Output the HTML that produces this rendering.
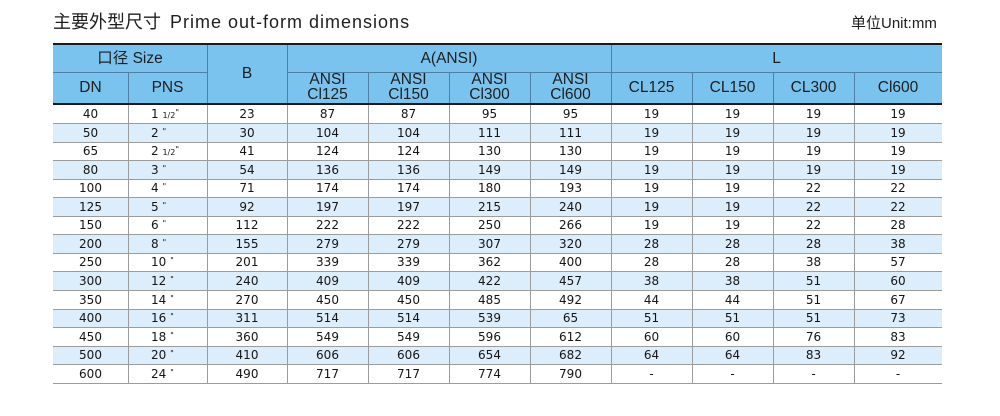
<!DOCTYPE html>
<html><head><meta charset="utf-8">
<style>
html,body{margin:0;padding:0;background:#fff;}
body{width:1000px;height:416px;position:relative;overflow:hidden;font-family:"Liberation Sans","Noto Sans CJK SC",sans-serif;color:#1e1e1e;}
.abs{position:absolute;}
.title{left:53px;top:8px;height:28px;line-height:28px;white-space:nowrap;}
.title .cn{font-size:18px;}
.title .en{font-size:18px;letter-spacing:1px;margin-left:9px;}
.unit{left:851px;top:13px;font-size:15px;line-height:22px;white-space:nowrap;}
.hdr{left:53px;top:45px;width:889px;height:58px;background:#79c3ee;}
.hl{position:absolute;background:#4d80a4;}
.ht{position:absolute;text-align:center;font-size:15.5px;color:#1e1e1e;}
.two{font-size:15.5px;line-height:14.5px;}
.row{position:absolute;left:53px;width:889px;box-sizing:border-box;border-bottom:1px solid #9c9c9c;font-family:"DejaVu Sans",sans-serif;font-size:12px;color:#151515;}
.row.b{background:#dcedfb;}
.row > span{position:absolute;top:0;text-align:center;}
.row > span:nth-child(1){left:0;width:75px;}
.row > span:nth-child(2){left:75px;width:79px;text-align:left;padding-left:23px;box-sizing:border-box;}
.row > span:nth-child(3){left:154px;width:80px;}
.row > span:nth-child(4){left:234px;width:81px;}
.row > span:nth-child(5){left:315px;width:81px;}
.row > span:nth-child(6){left:396px;width:81px;}
.row > span:nth-child(7){left:477px;width:81px;}
.row > span:nth-child(8){left:558px;width:81px;}
.row > span:nth-child(9){left:639px;width:81px;}
.row > span:nth-child(10){left:720px;width:81px;}
.row > span:nth-child(11){left:801px;width:88px;}
small{font-size:8px;}
sup{font-size:8px;vertical-align:3px;line-height:0;}
.vl{position:absolute;top:105px;height:278px;width:1px;background:#9c9c9c;}
</style></head><body>

<div class="abs title"><span class="cn">主要外型尺寸</span><span class="en">Prime out-form dimensions</span></div>
<div class="abs unit">单位Unit:mm</div>

<div class="abs" style="left:53px;top:43px;width:889px;height:2px;background:#1a1a1a;"></div>
<div class="abs hdr"></div>
<div class="hl" style="left:53px;top:72px;width:154px;height:1px;"></div>
<div class="hl" style="left:287px;top:72px;width:655px;height:1px;"></div>
<div class="hl" style="left:207px;top:45px;width:1px;height:58px;"></div>
<div class="hl" style="left:287px;top:45px;width:1px;height:58px;"></div>
<div class="hl" style="left:611px;top:45px;width:1px;height:58px;"></div>
<div class="hl" style="left:128px;top:73px;width:1px;height:30px;"></div>
<div class="hl" style="left:368px;top:73px;width:1px;height:30px;"></div>
<div class="hl" style="left:449px;top:73px;width:1px;height:30px;"></div>
<div class="hl" style="left:530px;top:73px;width:1px;height:30px;"></div>
<div class="hl" style="left:692px;top:73px;width:1px;height:30px;"></div>
<div class="hl" style="left:773px;top:73px;width:1px;height:30px;"></div>
<div class="hl" style="left:854px;top:73px;width:1px;height:30px;"></div>
<div class="abs" style="left:53px;top:103px;width:889px;height:2px;background:#1a1a1a;"></div>

<div class="ht" style="left:53px;top:45px;width:154px;line-height:27px;">口径 Size</div>
<div class="ht" style="left:207px;top:45px;width:80px;line-height:58px;">B</div>
<div class="ht" style="left:287px;top:45px;width:324px;line-height:27px;">A(ANSI)</div>
<div class="ht" style="left:611px;top:45px;width:331px;line-height:27px;">L</div>
<div class="ht" style="left:53px;top:73px;width:75px;line-height:30px;">DN</div>
<div class="ht" style="left:128px;top:73px;width:79px;line-height:30px;">PNS</div>
<div class="ht two" style="left:287px;top:73px;width:81px;">ANSI<br>Cl125</div>
<div class="ht two" style="left:368px;top:73px;width:81px;">ANSI<br>Cl150</div>
<div class="ht two" style="left:449px;top:73px;width:81px;">ANSI<br>Cl300</div>
<div class="ht two" style="left:530px;top:73px;width:81px;">ANSI<br>Cl600</div>
<div class="ht" style="left:611px;top:73px;width:81px;line-height:30px;">CL125</div>
<div class="ht" style="left:692px;top:73px;width:81px;line-height:30px;">CL150</div>
<div class="ht" style="left:773px;top:73px;width:81px;line-height:30px;">CL300</div>
<div class="ht" style="left:854px;top:73px;width:88px;line-height:30px;">Cl600</div>

<div class="row" style="top:105px;height:19px;line-height:18px;"><span>40</span><span>1 <small>1/2</small><sup>"</sup></span><span>23</span><span>87</span><span>87</span><span>95</span><span>95</span><span>19</span><span>19</span><span>19</span><span>19</span></div>
<div class="row b" style="top:124px;height:19px;line-height:18px;"><span>50</span><span>2 <sup>"</sup></span><span>30</span><span>104</span><span>104</span><span>111</span><span>111</span><span>19</span><span>19</span><span>19</span><span>19</span></div>
<div class="row" style="top:143px;height:18px;line-height:17px;"><span>65</span><span>2 <small>1/2</small><sup>"</sup></span><span>41</span><span>124</span><span>124</span><span>130</span><span>130</span><span>19</span><span>19</span><span>19</span><span>19</span></div>
<div class="row b" style="top:161px;height:19px;line-height:18px;"><span>80</span><span>3 <sup>"</sup></span><span>54</span><span>136</span><span>136</span><span>149</span><span>149</span><span>19</span><span>19</span><span>19</span><span>19</span></div>
<div class="row" style="top:180px;height:18px;line-height:17px;"><span>100</span><span>4 <sup>"</sup></span><span>71</span><span>174</span><span>174</span><span>180</span><span>193</span><span>19</span><span>19</span><span>22</span><span>22</span></div>
<div class="row b" style="top:198px;height:19px;line-height:18px;"><span>125</span><span>5 <sup>"</sup></span><span>92</span><span>197</span><span>197</span><span>215</span><span>240</span><span>19</span><span>19</span><span>22</span><span>22</span></div>
<div class="row" style="top:217px;height:18px;line-height:17px;"><span>150</span><span>6 <sup>"</sup></span><span>112</span><span>222</span><span>222</span><span>250</span><span>266</span><span>19</span><span>19</span><span>22</span><span>28</span></div>
<div class="row b" style="top:235px;height:19px;line-height:18px;"><span>200</span><span>8 <sup>"</sup></span><span>155</span><span>279</span><span>279</span><span>307</span><span>320</span><span>28</span><span>28</span><span>28</span><span>38</span></div>
<div class="row" style="top:254px;height:18px;line-height:17px;"><span>250</span><span>10 <sup>"</sup></span><span>201</span><span>339</span><span>339</span><span>362</span><span>400</span><span>28</span><span>28</span><span>38</span><span>57</span></div>
<div class="row b" style="top:272px;height:19px;line-height:18px;"><span>300</span><span>12 <sup>"</sup></span><span>240</span><span>409</span><span>409</span><span>422</span><span>457</span><span>38</span><span>38</span><span>51</span><span>60</span></div>
<div class="row" style="top:291px;height:19px;line-height:18px;"><span>350</span><span>14 <sup>"</sup></span><span>270</span><span>450</span><span>450</span><span>485</span><span>492</span><span>44</span><span>44</span><span>51</span><span>67</span></div>
<div class="row b" style="top:310px;height:18px;line-height:17px;"><span>400</span><span>16 <sup>"</sup></span><span>311</span><span>514</span><span>514</span><span>539</span><span>65</span><span>51</span><span>51</span><span>51</span><span>73</span></div>
<div class="row" style="top:328px;height:19px;line-height:18px;"><span>450</span><span>18 <sup>"</sup></span><span>360</span><span>549</span><span>549</span><span>596</span><span>612</span><span>60</span><span>60</span><span>76</span><span>83</span></div>
<div class="row b" style="top:347px;height:18px;line-height:17px;"><span>500</span><span>20 <sup>"</sup></span><span>410</span><span>606</span><span>606</span><span>654</span><span>682</span><span>64</span><span>64</span><span>83</span><span>92</span></div>
<div class="row" style="top:365px;height:19px;line-height:18px;"><span>600</span><span>24 <sup>"</sup></span><span>490</span><span>717</span><span>717</span><span>774</span><span>790</span><span>-</span><span>-</span><span>-</span><span>-</span></div>

<div class="vl" style="left:128px;"></div>
<div class="vl" style="left:207px;"></div>
<div class="vl" style="left:287px;"></div>
<div class="vl" style="left:368px;"></div>
<div class="vl" style="left:449px;"></div>
<div class="vl" style="left:530px;"></div>
<div class="vl" style="left:611px;"></div>
<div class="vl" style="left:692px;"></div>
<div class="vl" style="left:773px;"></div>
<div class="vl" style="left:854px;"></div>

</body></html>
